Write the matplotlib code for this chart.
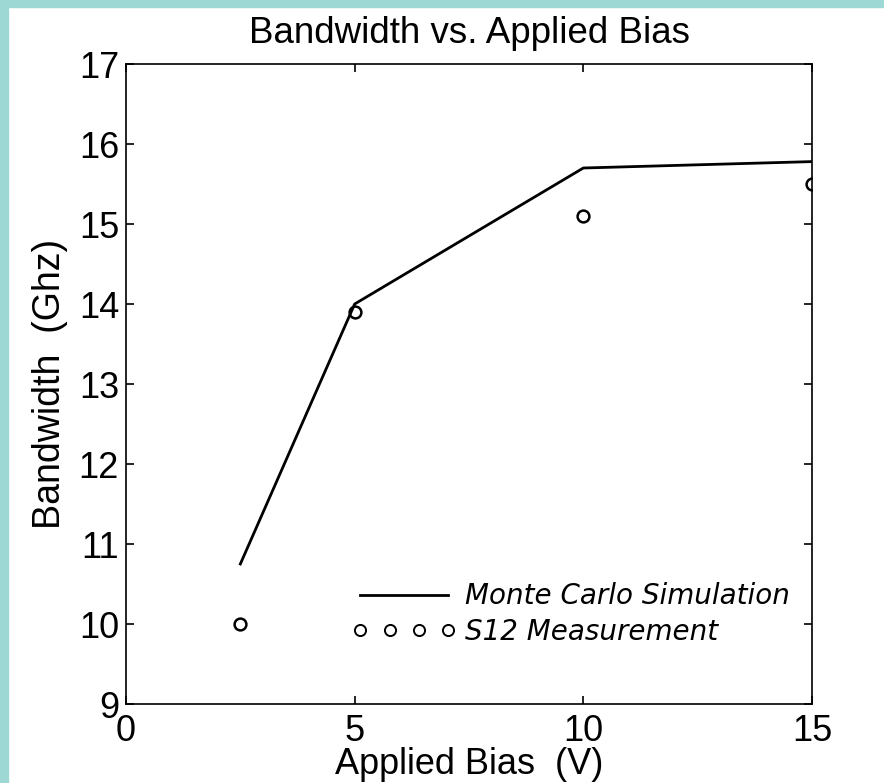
import numpy as np
import matplotlib
matplotlib.use("Agg")
import matplotlib.pyplot as plt
from matplotlib.patches import Rectangle

# data
bias_sim = [2.5, 5, 10, 15]          # applied bias (V)
bw_sim = [10.75, 14.0, 15.7, 15.78]  # Monte Carlo bandwidth (GHz)
bias_meas = [2.5, 5, 10, 15]
bw_meas = [10.0, 13.9, 15.1, 15.5]   # S12 measurement (GHz)

xticks = [0, 5, 10, 15]
yticks = [9, 10, 11, 12, 13, 14, 15, 16, 17]

plt.rcParams['font.family'] = ['Liberation Sans', 'DejaVu Sans']

fig = plt.figure(figsize=(8.84, 7.83), dpi=100)
fig.patch.set_facecolor('white')
teal = '#9dd8d5'
# teal border strips (left and top)
fig.patches.append(Rectangle((0, 0), 8 / 884, 1, transform=fig.transFigure, color=teal, zorder=0))
fig.patches.append(Rectangle((0, 1 - 7 / 783), 1, 7 / 783, transform=fig.transFigure, color=teal, zorder=0))

ax = fig.add_axes([126 / 884, 1 - 704 / 783, 686 / 884, 640 / 783])
ax.plot(bias_sim, bw_sim, color='black', lw=2.0, label='Monte Carlo Simulation')
ax.plot(bias_meas, bw_meas, ls='none', marker='o', ms=8.5, mfc='none', mec='black', mew=1.8,
        label='S12 Measurement')

ax.set_xlim(0, 15)
ax.set_ylim(9, 17)
ax.set_xticks(xticks)
ax.set_yticks(yticks)
ax.tick_params(direction='in', top=True, right=True, length=6, width=1.2, labelsize=26)
ax.tick_params(axis='y', pad=5)
ax.tick_params(axis='x', pad=7)
for s in ax.spines.values():
    s.set_linewidth(1.2)

ax.set_title('Bandwidth vs. Applied Bias', fontsize=26.5, pad=15)
ax.set_xlabel('Applied Bias  (V)', fontsize=26, labelpad=-1)
ax.set_ylabel('Bandwidth  (Ghz)', fontsize=27, labelpad=8)

leg = ax.legend(loc='upper left', bbox_to_anchor=(226 / 686, 0.19), frameon=False, numpoints=4,
                handlelength=3.75, handletextpad=0.32, labelspacing=0.28, borderpad=0, borderaxespad=0,
                prop={'family': 'DejaVu Sans', 'style': 'italic', 'size': 20})
for h in leg.legend_handles:
    h.set_markersize(8)
    h.set_markeredgewidth(1.4)

fig.savefig('out.png', dpi=100)
